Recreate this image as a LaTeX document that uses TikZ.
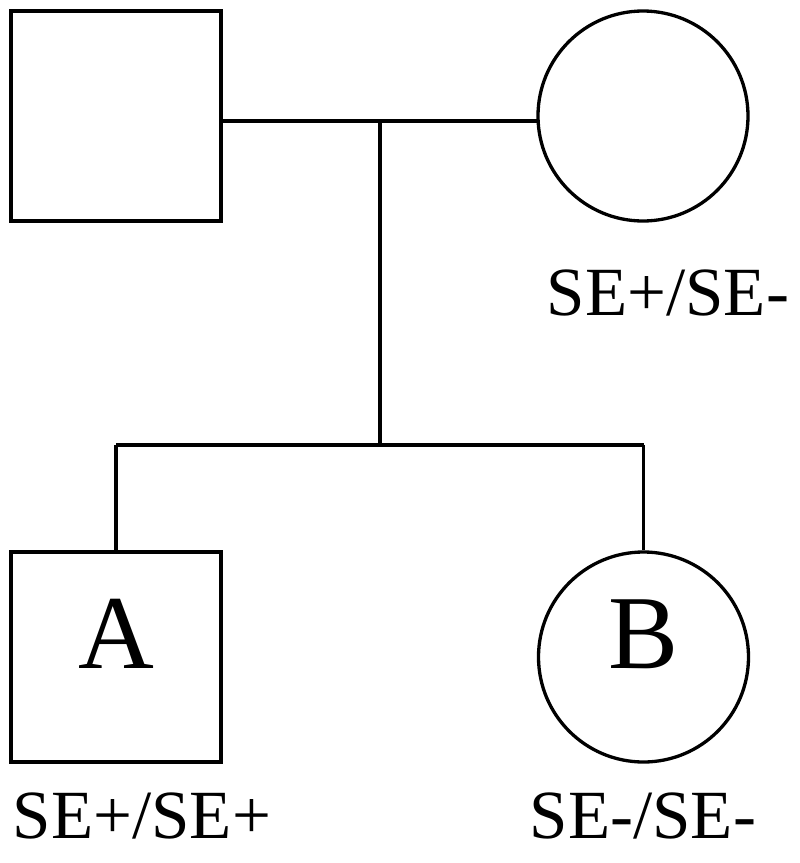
\documentclass[tikz,border=0pt]{standalone}
\usepackage{fontspec}
\setmainfont{Liberation Serif}
\begin{document}
\begin{tikzpicture}[x=1pt,y=-1pt,
  line width=3.3pt,
  male/.style={draw,rectangle,minimum width=210pt,minimum height=210pt,inner sep=0pt,line width=3.3pt},
  female/.style={draw,circle,minimum size=210pt,inner sep=0pt,line width=3.3pt},
  geno/.style={anchor=base,inner sep=0pt,font=\fontsize{69}{80}\selectfont},
  letter/.style={anchor=base,inner sep=0pt,font=\fontsize{105}{120}\selectfont}]
\useasboundingbox (0,0) rectangle (800,863);
\node[male] (father) at (116,116) {};
\node[female] (mother) at (643,116) {};
\node[male] (childA) at (116,657) {};
\node[female] (childB) at (643.5,657) {};
\node[letter] (la) at (116,668) {A};
\node[letter] (lb) at (643.5,668) {B};
\node[geno] (gm) at (668,315) {SE+/SE-};
\node[geno] (ga) at (142,838) {SE+/SE+};
\node[geno] (gb) at (643,838) {SE-/SE-};
\coordinate (mL) at (221,121);
\coordinate (mR) at (538,121);
\coordinate (mid) at (380,121);
\coordinate (sib) at (380,445);
\coordinate (sL) at (116,445);
\coordinate (sR) at (643.5,445);
\draw (mL) -- (mR);
\draw (mid) -- (sib);
\draw (sL) -- (sR);
\draw (sL) -- (childA.north);
\draw (sR) -- (childB.north);
\end{tikzpicture}
\end{document}
